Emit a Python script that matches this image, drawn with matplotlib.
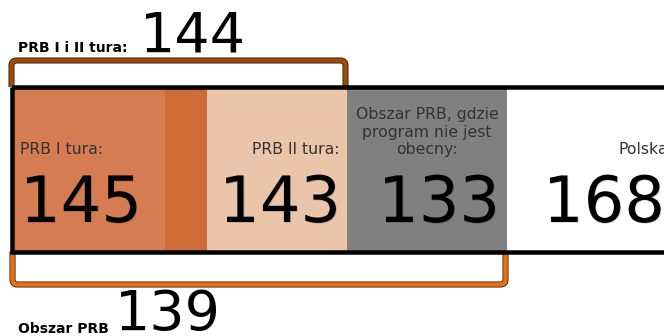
import matplotlib
matplotlib.use("Agg")
import matplotlib.pyplot as plt
from matplotlib.path import Path
from matplotlib.patches import PathPatch, Rectangle
import matplotlib.patheffects as pe

# values shown in the infographic
seg_labels = ["PRB I tura:", "", "PRB II tura:",
              "Obszar PRB, gdzie\nprogram nie jest\nobecny:", "Polska"]
seg_values = [145, None, 143, 133, 168]
seg_colors = ["#D67C52", "#CE6C38", "#EBC5A9", "#808080", "#FFFFFF"]
# segment edges in pixels (layout of the strip)
seg_edges = [13, 165, 207, 347, 507, 720]

top_label, top_value = "PRB I i II tura:", 144
bottom_label, bottom_value = "Obszar PRB", 139

fig = plt.figure(figsize=(6.64, 3.36), dpi=100)
ax = fig.add_axes([0, 0, 1, 1])
ax.set_xlim(0, 664)
ax.set_ylim(336, 0)
ax.axis("off")

px = 72 / 100  # points per pixel

# strip segments
y_top, y_bot = 87, 251.5
lefts = seg_edges[:-1]
widths = [b - a for a, b in zip(seg_edges[:-1], seg_edges[1:])]
ax.barh((y_top + y_bot) / 2, widths, left=lefts, height=y_bot - y_top,
        color=seg_colors, align="center", linewidth=0, zorder=1)

# black frame
ax.add_patch(Rectangle((11.5, y_top), 720, y_bot - y_top, fill=False,
                       edgecolor="black", linewidth=4.5 * px, zorder=3))

shadow = [pe.withSimplePatchShadow(offset=(0.6, -0.6), shadow_rgbFace="#000000", alpha=0.15)]
lab_kw = dict(fontsize=11.3, color="#333333", family="DejaVu Sans", zorder=4)
num_kw = dict(fontsize=46, color="black", family="DejaVu Sans", zorder=4,
              path_effects=shadow)

# segment texts
ax.text(20, 154, seg_labels[0], ha="left", va="baseline", **lab_kw)
ax.text(20, 222, str(seg_values[0]), ha="left", va="baseline", **num_kw)
ax.text(340, 154, seg_labels[2], ha="right", va="baseline", **lab_kw)
ax.text(341, 222, str(seg_values[2]), ha="right", va="baseline", **num_kw)
ax.text(427, 154, seg_labels[3], ha="center", va="baseline",
        linespacing=1.2, **lab_kw)
ax.text(500, 222, str(seg_values[3]), ha="right", va="baseline", **num_kw)
ax.text(618, 154, seg_labels[4], ha="left", va="baseline", **lab_kw)
ax.text(543, 222, str(seg_values[4]), ha="left", va="baseline", **num_kw)


def bracket(x0, x1, y_end, y_bar, color, r=5):
    s = 1 if y_bar > y_end else -1
    verts = [(x0, y_end), (x0, y_bar - s * r), (x0, y_bar), (x0 + r, y_bar),
             (x1 - r, y_bar), (x1, y_bar), (x1, y_bar - s * r), (x1, y_end)]
    codes = [Path.MOVETO, Path.LINETO, Path.CURVE3, Path.CURVE3,
             Path.LINETO, Path.CURVE3, Path.CURVE3, Path.LINETO]
    patch = PathPatch(Path(verts, codes), fill=False, edgecolor=color,
                      linewidth=4.5 * px, capstyle="butt", zorder=2,
                      path_effects=[pe.Stroke(linewidth=6 * px, foreground="#2a1405"),
                                    pe.Normal()])
    ax.add_patch(patch)


# top bracket over first three segments, bottom bracket over first four
bracket(11.5, seg_edges[3] - 1.5, y_top, 60.5, "#9C4A0E")
bracket(12.5, seg_edges[4] - 1.5, y_bot, 284.5, "#E8700F")

small_kw = dict(fontsize=10, color="black", family="DejaVu Sans", fontweight="bold")
big_kw = dict(fontsize=40, color="black", family="DejaVu Sans")
ax.text(18, 52, top_label, ha="left", va="baseline", **small_kw)
ax.text(140, 52, str(top_value), ha="left", va="baseline", **big_kw)
ax.text(18, 333, bottom_label, ha="left", va="baseline", **small_kw)
ax.text(115, 330, str(bottom_value), ha="left", va="baseline", **big_kw)

fig.savefig("out.png", dpi=100)
